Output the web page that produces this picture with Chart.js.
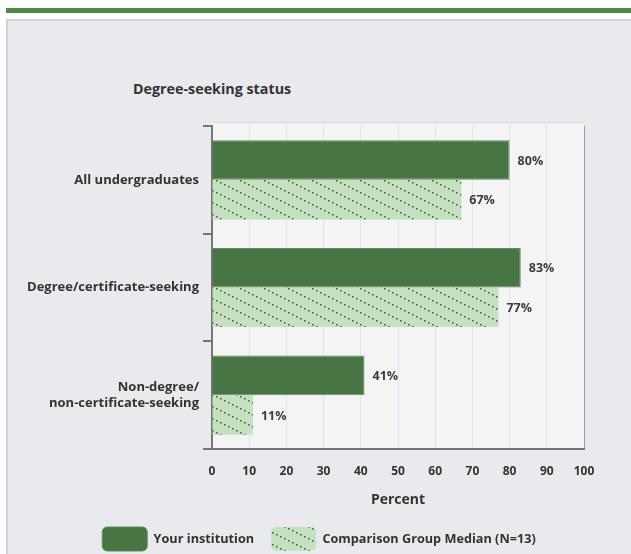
<!DOCTYPE html>
<html>
<head>
<meta charset="utf-8">
<script src="https://cdn.jsdelivr.net/npm/chart.js@4.4.1/dist/chart.umd.min.js"></script>
<style>
  body { margin: 0; background: #fff; overflow: hidden; width: 631px; height: 554px; position: relative; }
  #stripe { position: absolute; left: 6px; top: 8px; width: 625px; height: 5px; background: #4f8a4b; }
  #panel { position: absolute; left: 6px; top: 19px; right: 0; bottom: 0; background: #e9eaee;
           border-top: 2px solid #d3d3d6; border-left: 2px solid #d3d3d6; }
  #title { position: absolute; left: 133px; top: 80px; font: bold 14.3px "Open Sans", sans-serif; color: #333; line-height: 18px; }
  canvas { position: absolute; left: 0; top: 0; }
</style>
</head>
<body>
<div id="stripe"></div>
<div id="panel"></div>
<div id="title">Degree-seeking status</div>
<canvas id="graphicBar" width="631" height="561"></canvas>
<script>
const categories = ["All undergraduates", ["Degree/certificate-seeking"], ["Non-degree/", "non-certificate-seeking"]];
const yourInstitution = [80, 83, 41];
const comparisonMedian = [67, 77, 11];
const seriesNames = ["Your institution", "Comparison Group Median (N=13)"];

const graphicBar = document.getElementById("graphicBar");
const fontFamily = "'Open Sans', sans-serif";

// dotted diagonal hatch for the comparison group
function makeHatch() {
  const c = document.createElement("canvas");
  c.width = 24;
  c.height = 12;
  const ctx = c.getContext("2d");
  ctx.fillStyle = "#c6e1c2";
  ctx.fillRect(0, 0, 24, 12);
  ctx.fillStyle = "#3a7437";
  for (let x = 0; x < 24; x += 4) {
    ctx.fillRect(x, x / 2, 1.6, 1.6);
  }
  return ctx.createPattern(c, "repeat");
}
const hatch = makeHatch();

const plotBackground = {
  id: "plotBackground",
  beforeDraw(chart) {
    const { ctx, chartArea: a } = chart;
    ctx.save();
    ctx.fillStyle = "#f4f4f5";
    ctx.fillRect(a.left, a.top - 4, a.right - a.left, a.bottom - a.top + 4);
    ctx.strokeStyle = "#d8d8dc";
    ctx.lineWidth = 1;
    ctx.beginPath();
    ctx.moveTo(a.left, a.top - 3.5);
    ctx.lineTo(a.right, a.top - 3.5);
    ctx.stroke();
    ctx.restore();
  },
};

// centre the legend on the whole panel, not only the part left of the right padding
const legendShift = {
  id: "legendShift",
  afterLayout(chart) {
    chart.legend.left = 54;
  },
};

const valueLabels = {
  id: "valueLabels",
  afterDatasetsDraw(chart) {
    const ctx = chart.ctx;
    ctx.save();
    ctx.font = "bold 12.5px " + fontFamily;
    ctx.fillStyle = "#3c3c3c";
    ctx.textBaseline = "middle";
    chart.data.datasets.forEach((ds, i) => {
      chart.getDatasetMeta(i).data.forEach((bar, j) => {
        ctx.fillText(ds.data[j] + "%", bar.x + 8, bar.y + 1);
      });
    });
    ctx.restore();
  },
};

new Chart(graphicBar, {
  type: "bar",
  data: {
    labels: categories,
    datasets: [
      {
        label: seriesNames[0],
        data: yourInstitution,
        backgroundColor: "#477543",
        borderColor: "#5f8c5b",
        borderWidth: 1,
        categoryPercentage: 0.735,
        barPercentage: 1,
      },
      {
        label: seriesNames[1],
        data: comparisonMedian,
        backgroundColor: hatch,
        borderWidth: 0,
        categoryPercentage: 0.735,
        barPercentage: 1,
      },
    ],
  },
  options: {
    indexAxis: "y",
    responsive: false,
    animation: false,
    devicePixelRatio: 1,
    layout: { padding: { top: 126, left: 0, right: 47, bottom: 0 } },
    scales: {
      x: {
        min: 0,
        max: 100,
        ticks: {
          stepSize: 10,
          padding: 15,
          color: "#333",
          font: { family: fontFamily, weight: "bold", size: 12 },
        },
        grid: {
          drawTicks: false,
          color: (c) => (c.tick && c.tick.value === 100 ? "#9c9c9c" : "#dde3ee"),
          lineWidth: 1,
        },
        border: { color: "#767676", width: 2 },
        title: {
          display: true,
          text: "Percent",
          color: "#333",
          font: { family: fontFamily, weight: "bold", size: 14 },
          padding: { top: 0, bottom: 2 },
        },
        afterFit(scale) {
          scale.height = 61;
        },
      },
      y: {
        ticks: {
          padding: 4,
          color: "#333",
          font: { family: fontFamily, weight: "bold", size: 13, lineHeight: 1.25 },
        },
        grid: {
          drawOnChartArea: false,
          tickLength: 9,
          tickColor: "#767676",
          lineWidth: 2,
        },
        border: { color: "#767676", width: 2 },
        afterFit(scale) {
          scale.width = 212;
        },
      },
    },
    plugins: {
      tooltip: { enabled: false },
      legend: {
        position: "bottom",
        labels: {
          boxWidth: 45,
          boxHeight: 24,
          useBorderRadius: true,
          borderRadius: 5,
          padding: 17,
          color: "#333",
          font: { family: fontFamily, weight: "bold", size: 12.7 },
        },
      },
    },
  },
  plugins: [plotBackground, legendShift, valueLabels],
});
</script>
</body>
</html>
